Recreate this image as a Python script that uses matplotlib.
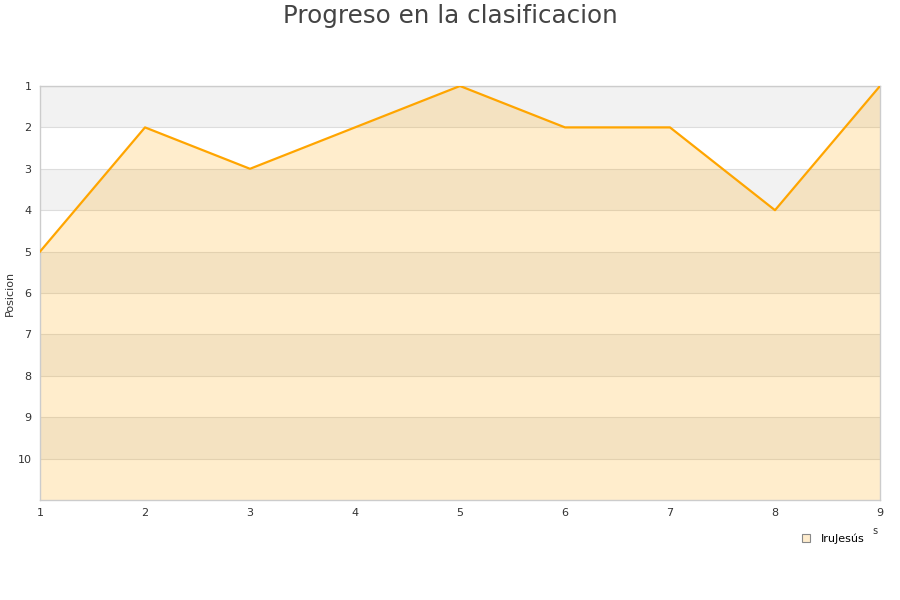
import matplotlib
matplotlib.use("Agg")
import matplotlib.pyplot as plt
from matplotlib.lines import Line2D

jornadas = [1, 2, 3, 4, 5, 6, 7, 8, 9]
posiciones = [5, 2, 3, 2, 1, 2, 2, 4, 1]
y_ticks = [1, 2, 3, 4, 5, 6, 7, 8, 9, 10]
serie = "IruJesús"

fig = plt.figure(figsize=(9, 6), dpi=100)
ax = fig.add_axes([40/900, 100/600, 840/900, 414/600])

# alternating bands
for k in range(1, 11):
    if k % 2 == 1:
        ax.axhspan(k, k + 1, color="#f2f2f2", zorder=0, lw=0)

ax.fill_between(jornadas, posiciones, 11, color="#ffa500", alpha=0.2, lw=0, zorder=1)
ax.plot(jornadas, posiciones, color="#ffa500", lw=1.6, zorder=3)

ax.set_xlim(1, 9)
ax.set_ylim(11, 1)
ax.set_yticks(y_ticks)
ax.set_xticks(jornadas)
ax.grid(axis="y", color="#dddddd", lw=0.8, zorder=0.5)
ax.set_axisbelow(True)
ax.tick_params(length=0, labelsize=8, labelcolor="#333333", pad=6)
for s in ax.spines.values():
    s.set_color("#cccccc")
    s.set_linewidth(1)

ax.set_ylabel("Posicion", fontsize=8, color="#333333")
ax.yaxis.set_label_coords(-25/840, 0.5)
fig.text(0.5, 1 - 16/600, "Progreso en la clasificacion", ha="center", va="center",
         fontsize=17.7, color="#444444")
fig.text(875/900, 1 - 531/600, "s", ha="center", va="center", fontsize=7, color="#333333")

h = Line2D([], [], marker="s", ls="none", markersize=6, markerfacecolor="#feeccd",
           markeredgecolor="#888888", markeredgewidth=0.8)
fig.legend([h], [serie], loc="center", bbox_to_anchor=(830/900, 1 - 539/600),
           frameon=False, fontsize=8, handletextpad=0.35)

fig.savefig("out.png", dpi=100)
